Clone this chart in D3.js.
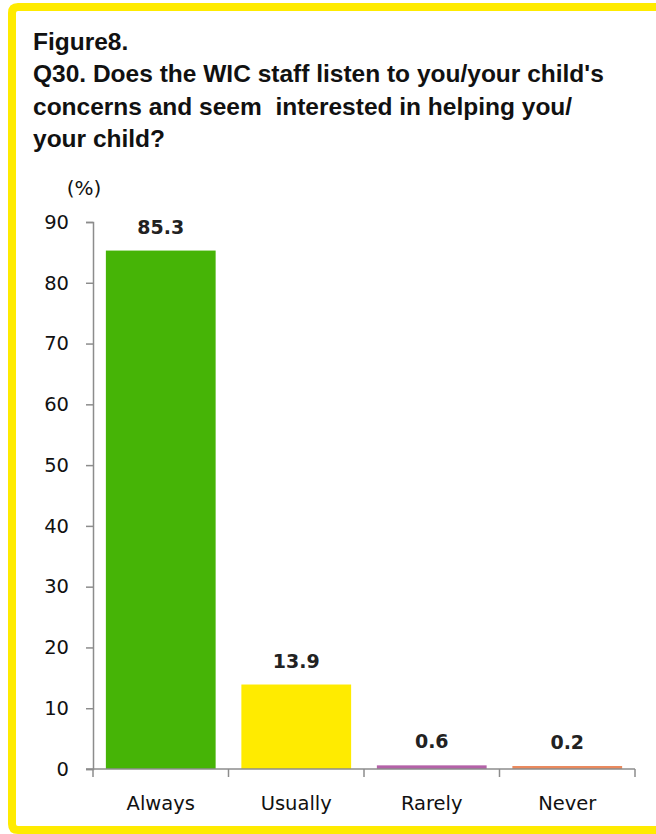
<!DOCTYPE html>
<html>
<head>
<meta charset="utf-8">
<script src="https://cdn.jsdelivr.net/npm/d3@7"></script>
<style>
  body { margin: 0; background: #fff; overflow: hidden; }
  svg { display: block; }
</style>
</head>
<body>
<div id="chart"></div>
<script>
// data
var categories = ["Always", "Usually", "Rarely", "Never"];
var percents = [85.3, 13.9, 0.6, 0.2];
var barColors = ["#46b406", "#ffeb00", "#b462a8", "#ea8a5e"];
var yTicks = [0, 10, 20, 30, 40, 50, 60, 70, 80, 90];
var titleLines = [
    "Figure8.",
    "Q30. Does the WIC staff listen to you/your child's",
    "concerns and seem  interested in helping you/",
    "your child?"
];

var width = 656,
    height = 834;

var svg = d3.select("#chart").append("svg")
    .attr("width", width)
    .attr("height", height);

// yellow frame: only left, top and bottom sides are inside the picture
var frame = d3.path();
frame.moveTo(width + 20, 7);
frame.lineTo(18, 7);
frame.quadraticCurveTo(12, 7, 12, 13);
frame.lineTo(12, 824);
frame.quadraticCurveTo(12, 830, 18, 830);
frame.lineTo(width + 20, 830);
svg.append("path")
    .attr("d", frame.toString())
    .attr("fill", "none")
    .attr("stroke", "#ffeb00")
    .attr("stroke-width", 8);

// title
var titleFont = "'Liberation Sans', Arial, sans-serif";
svg.append("g").selectAll("text")
    .data(titleLines)
    .enter().append("text")
    .attr("x", 33)
    .attr("y", function(d, i) { return 50 + i * 32.3; })
    .attr("font-family", titleFont)
    .attr("font-weight", "bold")
    .attr("font-size", 24.5)
    .attr("fill", "#111")
    .style("white-space", "pre")
    .text(function(d) { return d; });

var margin = {left: 93, right: 635, top: 222, bottom: 769};

var x = d3.scaleBand()
    .domain(categories)
    .range([margin.left, margin.right])
    .paddingInner(0.19)
    .paddingOuter(0.095);

var y = d3.scaleLinear()
    .domain([0, 90])
    .range([margin.bottom, margin.top]);

var labelFont = "'DejaVu Sans', Verdana, sans-serif";

// y axis
var yAxis = svg.append("g")
    .attr("transform", "translate(" + margin.left + ",0)")
    .call(d3.axisLeft(y).tickValues(yTicks).tickSize(7).tickPadding(17));
yAxis.select(".domain").attr("stroke", "#8c8c8c").attr("stroke-width", 1.5);
yAxis.selectAll(".tick line").attr("stroke", "#8c8c8c").attr("stroke-width", 1.5);
yAxis.selectAll(".tick text")
    .attr("font-family", labelFont)
    .attr("font-size", 19.5)
    .attr("fill", "#111");

svg.append("text")
    .attr("x", 84).attr("y", 195)
    .attr("text-anchor", "middle")
    .attr("font-family", labelFont)
    .attr("font-size", 20)
    .attr("fill", "#111")
    .text("(%)");

// bars
svg.append("g").selectAll("rect")
    .data(percents)
    .enter().append("rect")
    .attr("x", function(d, i) { return x(categories[i]); })
    .attr("y", function(d) { return Math.min(y(d), y(0) - 3); })
    .attr("width", x.bandwidth())
    .attr("height", function(d) { return Math.max(y(0) - y(d), 3); })
    .attr("fill", function(d, i) { return barColors[i]; });

// x axis with ticks between categories
var xAxis = svg.append("g")
    .attr("transform", "translate(0," + margin.bottom + ")");
xAxis.append("line")
    .attr("x1", margin.left - 7).attr("x2", margin.right)
    .attr("stroke", "#8c8c8c").attr("stroke-width", 1.5);
var bounds = d3.range(categories.length + 1).map(function(i) {
    return margin.left + i * x.step();
});
xAxis.selectAll(".sep")
    .data(bounds)
    .enter().append("line")
    .attr("class", "sep")
    .attr("x1", function(d) { return d; }).attr("x2", function(d) { return d; })
    .attr("y1", 0).attr("y2", 8)
    .attr("stroke", "#8c8c8c").attr("stroke-width", 1.5);
xAxis.selectAll(".cat")
    .data(categories)
    .enter().append("text")
    .attr("class", "cat")
    .attr("x", function(d) { return x(d) + x.bandwidth() / 2; })
    .attr("y", 41)
    .attr("text-anchor", "middle")
    .attr("font-family", labelFont)
    .attr("font-size", 19.5)
    .attr("fill", "#111")
    .text(function(d) { return d; });

// value labels
svg.append("g").selectAll("text")
    .data(percents)
    .enter().append("text")
    .attr("x", function(d, i) { return x(categories[i]) + x.bandwidth() / 2; })
    .attr("y", function(d) { return Math.min(y(d), y(0) - 3) - 17; })
    .attr("text-anchor", "middle")
    .attr("font-family", labelFont)
    .attr("font-weight", "bold")
    .attr("font-size", 19)
    .attr("fill", "#222")
    .text(function(d) { return d.toFixed(1); });
</script>
</body>
</html>
